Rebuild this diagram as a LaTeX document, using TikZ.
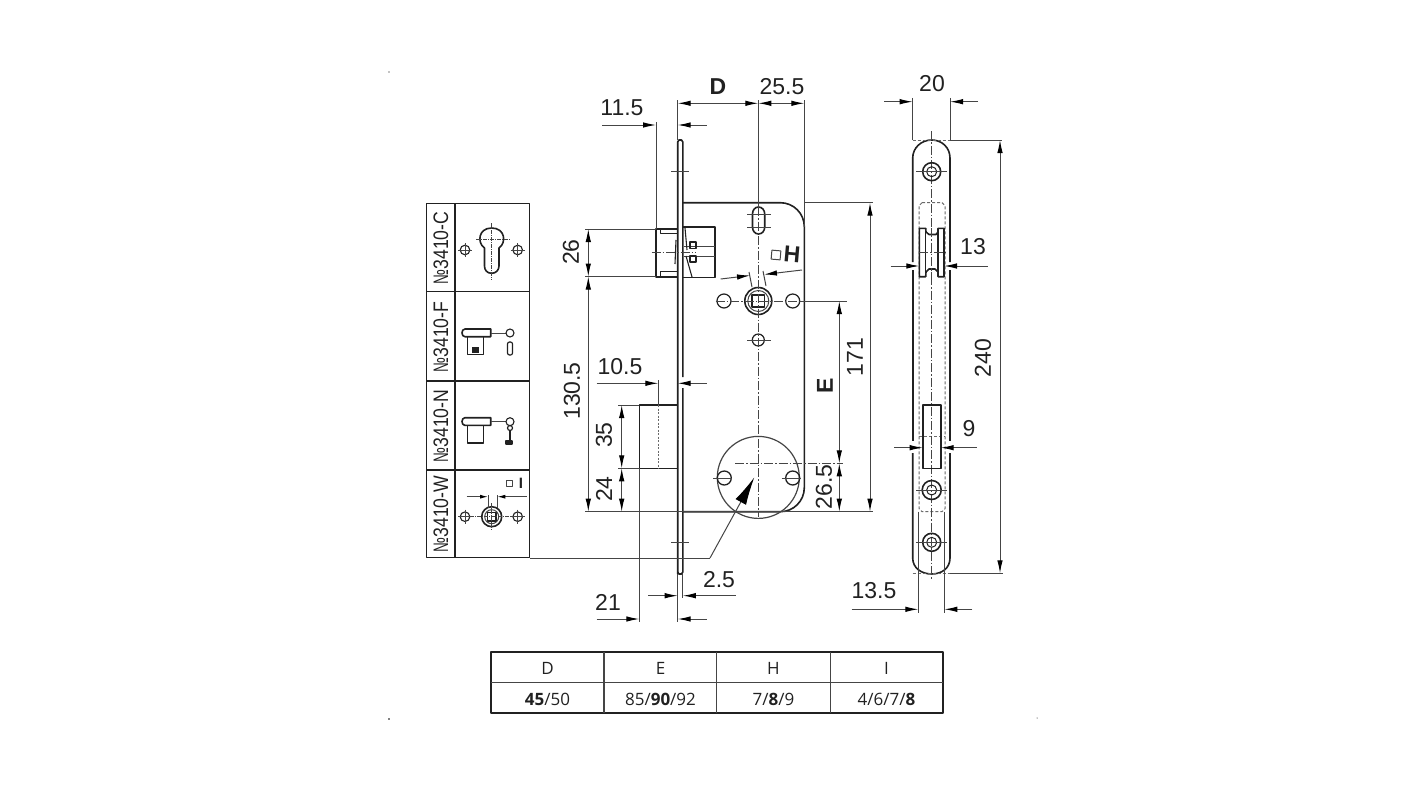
\documentclass[tikz,border=0pt]{standalone}
\usepackage{fontspec}
\usepackage{tikz}
\usetikzlibrary{positioning,shapes,arrows.meta}
\setmainfont{Liberation Sans}
\newfontfamily\tablefont{Open Sans}
\definecolor{ink}{gray}{0.13}
\definecolor{thin}{gray}{0.27}

\begin{document}
\begin{tikzpicture}[x=1pt,y=-1pt,line join=round]
\useasboundingbox (0,0) rectangle (1425,792);
\tikzstyle{every node}=[inner sep=0pt,text=ink,font=\fontsize{23}{23}\selectfont];
\tikzstyle{outline}=[draw=ink,line width=1.6pt];
\tikzstyle{extline}=[draw=thin,line width=1pt];
\tikzstyle{axis}=[draw=thin,line width=0.9pt,dash pattern=on 9pt off 2pt on 1.5pt off 2pt];
\tikzstyle{hidden}=[draw=thin!80,line width=1pt,dash pattern=on 3pt off 2pt];
\tikzstyle{dimline}=[draw=thin,line width=1pt,{Latex[length=13pt,width=5.5pt,black]}-{Latex[length=13pt,width=5.5pt,black]}];
\tikzstyle{inarrow}=[draw=thin,line width=1pt,-{Latex[length=13pt,width=5.5pt,black]}];
\tikzstyle{small}=[font=\fontsize{17}{17}\tablefont\selectfont];

% specks
\fill[thin] (389,72) circle (0.7) (389,719) circle (0.8) (1037,718) circle (0.5);

% ---- faceplate and case
\draw[outline] (677.7,574) -- (677.7,142) -- (679,140) -- (681.5,140) -- (682.8,142) -- (682.8,377);
\draw[outline] (677.7,572) -- (679,574) -- (681.5,574) -- (682.8,572) -- (682.8,388);
\draw[outline,rounded corners=24pt] (682.8,202.7) -- (804.3,202.7) -- (804.3,511.7) -- (682.8,511.7);
\draw[extline] (671,171.7) -- (689,171.7) (671,542.3) -- (689,542.3);

% slot, follower, holes
\draw[outline] (758.5,207) .. controls (755,207) and (752.5,210) .. (752.5,214) -- (752.5,227) .. controls (752.5,231) and (755,234) .. (758.5,234)
  .. controls (762,234) and (764.7,231) .. (764.7,227) -- (764.7,214) .. controls (764.7,210) and (762,207) .. (758.5,207) -- cycle;
\draw[extline] (747,214) -- (771,214) (747,227) -- (771,227);
\draw[outline] (758.3,301) circle (13.5);
\draw[extline] (758.3,301) circle (10.5);
\draw[outline] (752,295) rectangle (764.6,307);
\foreach \x in {724,792.7} \draw[outline,line width=1.2pt] (\x,301) circle (7);
\draw[outline,line width=1.2pt] (758.3,340) circle (6);
\draw[extline] (747,340) -- (771,340);
\draw[axis] (715.7,301) -- (800,301);
\draw[axis] (758.3,207) -- (758.3,517);

% rosette
\draw[extline,line width=1.2pt] (758.3,477.4) circle (41);
\foreach \x in {724.3,792.7} {
  \draw[outline,line width=1.3pt] (\x,478) circle (7);
  \draw[extline] (\x-11,478) -- (\x+8,478);
}
\draw[axis] (735,463.3) -- (842.7,463.3);

% ---- bolt
\draw[outline] (677.7,229) -- (656,229) -- (656,276.7) -- (677.7,276.7);
\draw[outline,line width=1.1pt] (660.7,229) -- (660.7,233.5) -- (677.7,233.5) (660.7,276.7) -- (660.7,271.7) -- (677.7,271.7);
\draw[outline] (682.8,226.7) -- (715,226.7) -- (715,277.3) -- (682.8,277.3);
\draw[extline] (684,246.7) -- (715,246.7) (684,256.7) -- (715,256.7);
\draw[outline,line width=1.1pt] (690,242) rectangle (696,248.5) (690,256) rectangle (696,262);
\draw[outline,line width=1.1pt] (685,228) -- (687,250) (686,256) -- (692,277) (676,240) -- (675,264);
\draw[axis] (651.7,252.7) -- (696,252.7);

% ---- latch
\draw[outline] (677.7,405) -- (639.3,405) -- (639.3,468.3) -- (677.7,468.3);
\draw[hidden,dash pattern=on 2pt off 1.5pt] (658.3,405) -- (658.3,468.3);

% ---- extension lines, front view
\draw[extline] (677.7,100) -- (677.7,140) (758.3,100) -- (758.3,207) (804.3,100) -- (804.3,227)
  (656,122) -- (656,229) (658.3,380) -- (658.3,405)
  (585,229) -- (656,229) (585,276.5) -- (656,276.5)
  (618,405) -- (639.3,405) (618,468.3) -- (639.3,468.3)
  (585,511.7) -- (873,511.7) (805,202.7) -- (873,202.7) (800,301) -- (847,301)
  (639.3,468.3) -- (639.3,622) (677.7,574) -- (677.7,622) (682.8,574) -- (682.8,598);

% ---- dimensions, front view
\draw[dimline] (677.7,103.3) -- (758.3,103.3);
\draw[dimline] (758.3,103.3) -- (804.3,103.3);
\node (dimd) at (718,87) {\textbf{D}};
\node (dimtop) at (782,87) {25.5};
\draw[inarrow] (602,125) -- (656,125);
\draw[inarrow] (706.7,125) -- (677.7,125);
\node (dimbolt) at (622,108) {11.5};
\draw[dimline] (588.3,229) -- (588.3,276.5);
\draw[dimline] (588.3,276.5) -- (588.3,511.7);
\node[rotate=90] (dimb) at (571,252) {26};
\node[rotate=90] (dimc) at (572,391) {130.5};
\draw[inarrow] (596.7,383.3) -- (658.3,383.3);
\draw[inarrow] (706.7,383.3) -- (677.7,383.3);
\node (dimlatch) at (620,367) {10.5};
\draw[dimline] (621.7,405) -- (621.7,468.3);
\draw[dimline] (621.7,468.3) -- (621.7,511.7);
\node[rotate=90] (dime) at (604,435) {35};
\node[rotate=90] (dimf) at (604,489) {24};
\draw[inarrow] (596.7,619) -- (639.3,619);
\draw[inarrow] (706.7,619) -- (677.7,619);
\node (dimg) at (608,602) {21};
\draw[inarrow] (648,595.7) -- (677.7,595.7);
\draw[inarrow] (735.7,595.7) -- (682.8,595.7);
\node (dimplate) at (719,580) {2.5};
\draw[dimline] (839.3,301) -- (839.3,463.3);
\draw[dimline] (839.3,463.3) -- (839.3,511.7);
\node[rotate=90] (dime2) at (825,386) {\textbf{E}};
\node[rotate=90] (dimh) at (824,487) {26.5};
\draw[dimline] (870,202.7) -- (870,511.7);
\node[rotate=90] (dimk) at (855,357) {171};

% square size H
\draw[inarrow] (720.7,279) -- (750,275.5);
\draw[inarrow] (802,270) -- (764,274.5);
\draw[extline] (749,272) -- (752,287) (763,271) -- (766,286);
\draw[extline,line width=1pt,rotate around={-5:(776,255)}] (771.5,250.5) rectangle (780.5,259.5);
\node[rotate=-5] (dimsq) at (792,254) {\textbf{H}};

% leader to rosette
\draw[extline] (530,558) -- (710,558);
\coordinate (tip) at (754.3,477.4);
\draw[inarrow,-{Latex[length=28pt,width=12pt,black]}] (710,558) -- (tip);

% ---- side view
\draw[outline] (912.7,262) -- (912.7,158) .. controls (912.7,147.7) and (921.4,140) .. (931.7,140) .. controls (942,140) and (950,147.7) .. (950,158) -- (950,262);
\draw[outline] (912.7,270) -- (912.7,441);
\draw[outline] (950,270) -- (950,441);
\draw[outline] (912.7,453) -- (912.7,558) .. controls (912.7,568) and (921.4,574) .. (931.7,574) .. controls (942,574) and (950,568) .. (950,558) -- (950,453);
\draw[hidden] (912.7,140) -- (950,140) (912.7,573.5) -- (950,573.5);
\draw[hidden] (922,202.7) -- (942,202.7) -- (945,205.7) -- (945,508.7) -- (942,511.7) -- (922,511.7) -- (919,508.7) -- (919,205.7) -- cycle;
\draw[hidden] (919,436.7) -- (945,436.7);
\draw[axis] (931.7,131) -- (931.7,579);
\foreach \y/\r in {171.7/9,490/9.5,542.3/9} {
  \draw[outline] (931.7,\y) circle (\r);
  \draw[outline,line width=1pt] (931.7,\y) circle (5);
  \draw[extline] (916,\y) -- (947,\y);
}
% bolt, side
\draw[outline,fill=white] (919.3,228.3) -- (925.7,228.3) -- (926,232) -- (929,234.5) -- (936,234.5) -- (938,232) -- (938,228.3) -- (944,228.3) -- (944,276.7) -- (938,276.7) -- (938,272) -- (935,269) -- (929,269) -- (926,272) -- (925.7,276.7) -- (919.3,276.7) -- cycle;
\draw[outline,line width=1.1pt] (925.7,232) -- (925.7,272) (938,232) -- (938,272);
\draw[axis] (931.7,228) -- (931.7,277);
\draw[axis] (919,252.7) -- (945,252.7);
% latch, side
\draw[outline] (922.7,405) rectangle (940.7,468.3);

% ---- dimensions, side view
\draw[extline] (912.7,98) -- (912.7,140) (950,98) -- (950,140)
  (950,140) -- (1002,140) (950,573.3) -- (1003,573.3)
  (918.3,511.7) -- (918.3,613) (944.3,511.7) -- (944.3,613);
\draw[inarrow] (884,101.7) -- (912.7,101.7);
\draw[inarrow] (978,101.7) -- (950,101.7);
\node (dimwidth) at (932,84) {20};
\draw[inarrow] (890.7,266) -- (919.3,266);
\draw[inarrow] (987.7,266) -- (944,266);
\node (dimboltw) at (973,247) {13};
\draw[inarrow] (894,447.7) -- (922.7,447.7);
\draw[inarrow] (976.7,447.7) -- (940.7,447.7);
\node (dimlatchw) at (969,429) {9};
\draw[inarrow] (851.7,609.3) -- (918.3,609.3);
\draw[inarrow] (972.3,609.3) -- (944.3,609.3);
\node (dimcase) at (874,591) {13.5};
\draw[dimline] (1000,140) -- (1000,573.3);
\node[rotate=90] (dimheight) at (983,358) {240};

% ---- variants panel
\draw[outline,line width=1.1pt] (426.7,203.3) rectangle (529.3,557.3);
\draw[outline,line width=1.1pt] (455,203.3) -- (455,557.3);
\foreach \y in {291.7,381,470} \draw[outline,line width=1.1pt] (426.7,\y) -- (529.3,\y);
\foreach \y/\t in {248/C,337/F,426/N,514/W}
  \node[rotate=90] (var\t) at (441,\y) {\fontsize{21}{21}\selectfont\scalebox{.66}[1]{№}\scalebox{.84}[1]{3410-\t}};
\foreach \y in {250,516.7} \foreach \x in {465,517.7} {
  \draw[outline,line width=1.1pt] (\x,\y) circle (4.8);
  \draw[extline] (\x-7,\y) -- (\x+7,\y) (\x,\y-7) -- (\x,\y+7);
}
% cylinder
\draw[outline] (484.5,248) .. controls (477,243) and (478,228) .. (491.7,228) .. controls (505.5,228) and (506.5,243) .. (499,248) -- (499,266) .. controls (499,270) and (496,273.3) .. (491.7,273.3) .. controls (487,273.3) and (484.5,270) .. (484.5,266) -- cycle;
\draw[axis,line width=0.7pt,dash pattern=on 4pt off 1pt on 1pt off 1pt] (476,239) -- (509.3,239) (491.7,223) -- (491.7,280);
% thumb turns
\foreach \y/\b in {329/354.3,417.7/442.7} {
  \draw[outline,fill=white] (490.7,\y) -- (465,\y) .. controls (461,\y) and (461,\y+7.7) .. (465,\y+7.7) -- (490.7,\y+7.7) -- cycle;
  \draw[outline] (467.3,\y+7.7) -- (467.3,\b) -- (483.3,\b) -- (483.3,\y+7.7);
  \draw[extline] (490.7,\y+4) -- (505.5,\y+4);
  \draw[outline,line width=1.1pt] (510,\y+4) circle (4);
}
\fill[ink] (471.5,347) rectangle (478.5,353);
\draw[outline,line width=1.2pt,rounded corners=2pt] (507.5,342) rectangle (512.5,355);
\draw[outline,line width=1.2pt] (510,428) circle (2.5);
\draw[outline,fill=ink] (506,441) -- (512,441) -- (512,444) -- (506,444) -- cycle;
\draw[outline,line width=1.2pt] (510,431) -- (510,441);
% square hub
\draw[outline] (491.7,516.7) circle (10);
\draw[extline] (491.7,516.7) circle (7);
\draw[outline,line width=1.1pt] (487.5,512.5) rectangle (496,521);
\draw[axis,line width=0.7pt,dash pattern=on 4pt off 1pt on 1pt off 1pt] (470,516.7) -- (513,516.7) (491.7,503) -- (491.7,530);
\draw[inarrow,-{Latex[length=8pt,width=4pt,black]}] (466.7,496.7) -- (488,496.7);
\draw[inarrow,-{Latex[length=8pt,width=4pt,black]}] (526.7,496.7) -- (497.3,496.7);
\draw[extline] (488,495) -- (488,508) (497.3,495) -- (497.3,508);
\draw[extline,line width=1pt] (506,480) rectangle (512.5,486);
\node (varsq) at (521,483) {\fontsize{15}{15}\selectfont\textbf{I}};

% ---- size table
\draw[outline,line width=1.9pt] (490.7,651.7) rectangle (943.3,713.3);
\draw[extline,line width=1.1pt] (490.7,682.3) -- (943.3,682.3);
\foreach \x in {604,716.7,830.7} \draw[extline,line width=1.1pt] (\x,651.7) -- (\x,713.3);
\node[small] (headd) at (547.5,668) {D};
\node[small] (heade) at (660.5,668) {E};
\node[small] (headh) at (773.5,668) {H};
\node[small] (headi) at (886.5,668) {I};
\node[small] (vald) at (547.5,699) {\textbf{45}/50};
\node[small] (vale) at (660.5,699) {85/\textbf{90}/92};
\node[small] (valh) at (773.5,699) {7/\textbf{8}/9};
\node[small] (vali) at (886.5,699) {4/6/7/\textbf{8}};
\end{tikzpicture}
\end{document}
